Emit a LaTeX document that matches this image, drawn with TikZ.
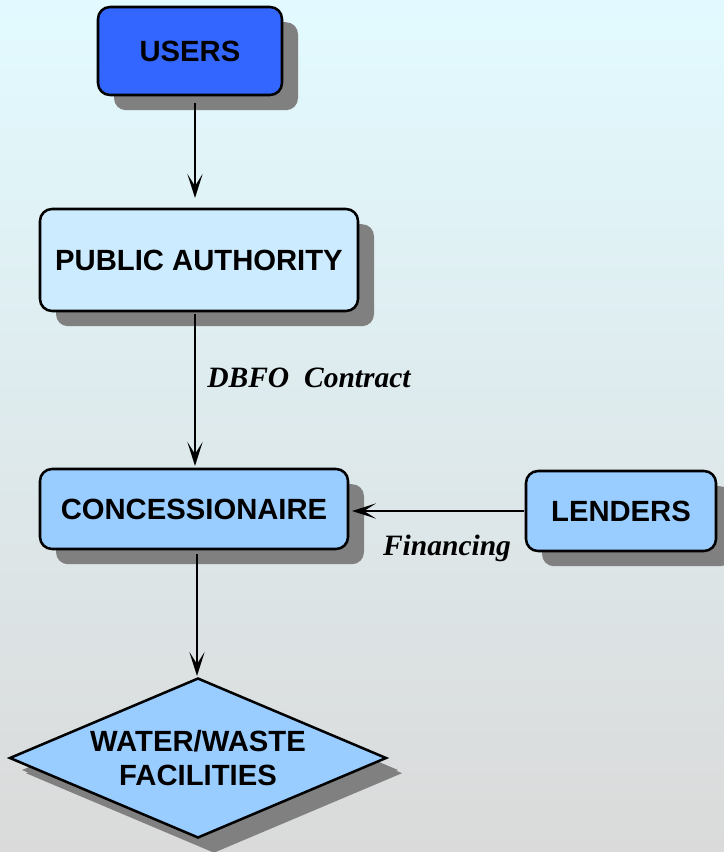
\documentclass[tikz,border=0pt]{standalone}
\usepackage{fontspec}
\setmainfont{Liberation Sans}
\newfontfamily\labelfont{Liberation Serif}
\usetikzlibrary{positioning,shapes.geometric,shadows,arrows.meta}

\definecolor{usersblue}{HTML}{3366FF}
\definecolor{palight}{HTML}{CCEBFF}
\definecolor{boxblue}{HTML}{99CCFF}
\definecolor{shadowgray}{HTML}{808080}

\tikzset{
  box/.style={draw=black, line width=1.8pt, rounded corners=0.3cm, align=center,
    font=\fontsize{20.8}{24}\selectfont\bfseries,
    drop shadow={shadow xshift=0.4cm, shadow yshift=-0.38cm, fill=shadowgray, opacity=1}},
  flow/.style={line width=2pt, -{Stealth[length=0.6cm, width=0.38cm, inset=0.3cm]}},
  lbl/.style={font=\labelfont\fontsize{21}{24}\selectfont\bfseries\itshape}
}

\begin{document}
\begin{tikzpicture}
  % background
  \shade[top color={rgb,255:red,226;green,250;blue,255}, middle color={rgb,255:red,208;green,224;blue,244},
    bottom color={rgb,255:red,218;green,218;blue,218}] (0,0) rectangle (18.1,-21.3);
  \useasboundingbox (0,0) rectangle (18.1,-21.3);

  %% boxes
  \node[box, fill=usersblue, minimum width=4.6cm, minimum height=2.2cm] (users) at (4.75,-1.275) {USERS};
  \node[box, fill=palight, minimum width=7.95cm, minimum height=2.55cm] (pa) at (4.975,-6.5) {PUBLIC AUTHORITY};
  \node[box, fill=boxblue, minimum width=7.7cm, minimum height=2.0cm] (conc) at (4.85,-12.725) {CONCESSIONAIRE};
  \node[box, fill=boxblue, minimum width=4.75cm, minimum height=2.0cm] (lenders) at (15.525,-12.775) {LENDERS};
  \node[box, diamond, rounded corners=0pt, fill=boxblue, minimum width=9.425cm, minimum height=4.0cm,
    inner sep=0pt, aspect=2.36, drop shadow={shadow xshift=0.3cm, shadow yshift=-0.3cm, fill=shadowgray, opacity=1}]
    (fac) at (4.95,-18.95) {WATER/WASTE\\FACILITIES};

  % arrows
  \coordinate (u1) at (4.875,-2.575);
  \coordinate (u2) at (4.875,-4.95);
  \coordinate (p1) at (4.875,-7.85);
  \coordinate (p2) at (4.875,-11.65);
  \coordinate (c1) at (4.925,-13.85);
  \coordinate (c2) at (4.925,-16.9);
  \coordinate (l1) at (13.1,-12.775);
  \coordinate (l2) at (8.8,-12.775);
  \draw[flow] (u1) -- (u2);
  \draw[flow] (p1) -- (p2);
  \draw[flow] (c1) -- (c2);
  \draw[flow] (l1) -- (l2);

  % labels
  \node[lbl] (dbfo) at (7.725,-9.45) {DBFO\ \ Contract};
  \node[lbl] (fin) at (11.175,-13.7) {Financing};
\end{tikzpicture}
\end{document}
